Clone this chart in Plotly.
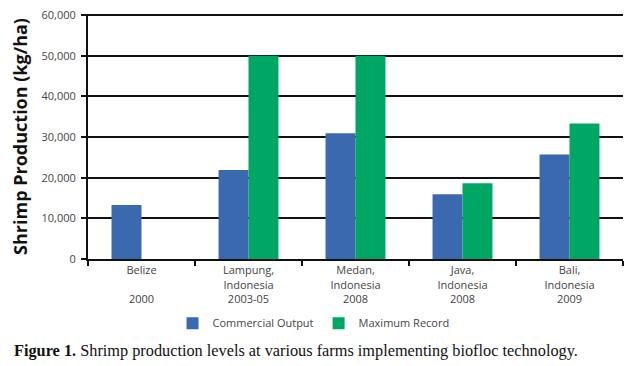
import plotly.graph_objects as go

categories = ["Belize<br> <br>2000", "Lampung,<br>Indonesia<br>2003-05", "Medan,<br>Indonesia<br>2008",
              "Java,<br>Indonesia<br>2008", "Bali,<br>Indonesia<br>2009"]
commercial_output = [13300, 21900, 30900, 15900, 25700]
maximum_record = [None, 50000, 50000, 18600, 33300]
y_ticks = [0, 10000, 20000, 30000, 40000, 50000, 60000]
y_tick_labels = ["0", "10,000", "20,000", "30,000", "40,000", "50,000", "60,000"]

BLUE = "#3A69AF"
GREEN = "#00A663"
FONT = "'Open Sans', sans-serif"

fig = go.Figure()
fig.add_trace(go.Bar(x=categories, y=commercial_output, name="Commercial Output",
                     marker=dict(color=BLUE, line=dict(width=0))))
fig.add_trace(go.Bar(x=categories, y=maximum_record, name="Maximum Record",
                     marker=dict(color=GREEN, line=dict(width=0))))

fig.update_layout(
    width=640, height=366,
    margin=dict(l=80, r=25, t=6, b=115),
    paper_bgcolor="white", plot_bgcolor="white",
    barmode="group", bargap=0.44, bargroupgap=0,
    font=dict(family=FONT, size=11, color="#444"),
    showlegend=True,
    legend=dict(orientation="h", x=0.158, xanchor="left", y=-0.262, yanchor="middle",
                font=dict(size=11, color="#444"), itemwidth=30, tracegroupgap=0,
                bgcolor="rgba(0,0,0,0)"),
    xaxis=dict(showline=True, linecolor="#111", linewidth=2, ticks="outside",
               tickson="boundaries", ticklen=5, tickwidth=2, tickcolor="#111",
               showgrid=False, tickfont=dict(size=11, color="#444"), fixedrange=True,
               automargin=False),
    yaxis=dict(range=[0, 60250], tickvals=y_ticks, ticktext=y_tick_labels,
               showline=True, linecolor="#111", linewidth=2, ticks="outside",
               ticklen=5, tickwidth=2, tickcolor="#111", ticklabelstandoff=3,
               ticklabeloverflow="allow",
               showgrid=True, gridcolor="#111", gridwidth=2, zeroline=False,
               tickfont=dict(size=11, color="#444"), automargin=False,
               title=dict(text="<b>Shrimp Production (kg/ha)</b>",
                          font=dict(family=FONT, size=18, color="#111"),
                          standoff=14)),
    annotations=[dict(
        text="<b>Figure 1.</b> Shrimp production levels at various farms implementing biofloc technology.",
        xref="paper", yref="paper", x=-0.142, y=-0.373, xanchor="left", yanchor="middle",
        showarrow=False, font=dict(family="'Liberation Serif', serif", size=16.3, color="#111"))],
)

fig.write_html("out.html")
